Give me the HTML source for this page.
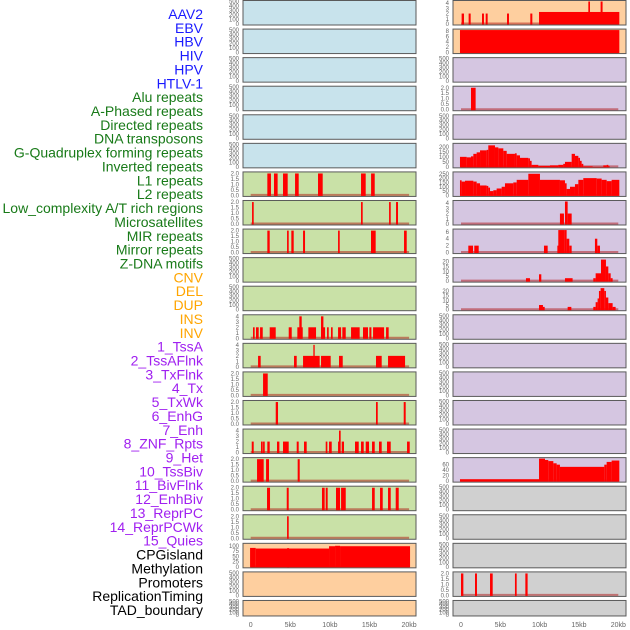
<!DOCTYPE html>
<html><head><meta charset="utf-8"><style>
html,body{margin:0;padding:0;background:#fff;}
svg{display:block;font-family:"Liberation Sans",sans-serif;}
</style></head><body>
<svg id="chart" width="630" height="630" viewBox="0 0 630 630" xmlns="http://www.w3.org/2000/svg"></svg>
<script>
// ---- data ----
const trackLabels = ["AAV2","EBV","HBV","HIV","HPV","HTLV-1","Alu repeats","A-Phased repeats","Directed repeats","DNA transposons","G-Quadruplex forming repeats","Inverted repeats","L1 repeats","L2 repeats","Low_complexity A/T rich regions","Microsatellites","MIR repeats","Mirror repeats","Z-DNA motifs","CNV","DEL","DUP","INS","INV","1_TssA","2_TssAFlnk","3_TxFlnk","4_Tx","5_TxWk","6_EnhG","7_Enh","8_ZNF_Rpts","9_Het","10_TssBiv","11_BivFlnk","12_EnhBiv","13_ReprPC","14_ReprPCWk","15_Quies","CPGisland","Methylation","Promoters","ReplicationTiming","TAD_boundary"];
const labelGroups = [6,13,5,15,5];
const xTicks = [0,5,10,15,20];
const xTickLabels = ["0","5kb","10kb","15kb","20kb"];
const ticks500 = [0,100,200,300,400,500];
const ticks2 = [0,0.5,1,1.5,2];
const ticks4 = [0,1,2,3,4];

// left column: segments [startKb, endKb, value]
const L6 = [[2.1,2.56,2],[2.94,3.4,2],[4.08,4.67,2],[5.6,6.06,2],[8.5,9.09,2],[13.93,14.52,2],[15.2,15.66,2]];
const L7 = [[0.17,0.38,2],[13.93,14.14,2],[17.47,17.68,2],[18.35,18.6,2]];
const L8 = [[2.1,2.4,2],[4.59,4.8,2],[5.13,5.43,2],[6.61,6.86,2],[11.03,11.24,2],[15.19,15.78,2],[19.36,19.7,2]];
const L11 = [[0.29,0.5,2],[0.67,1.01,2],[1.18,1.52,2],[2.4,3.16,2],[4.8,5.18,2],[5.89,6.57,2],[6.14,6.44,4],[7.28,8.25,2],[8.88,9.39,2],[8.88,9.18,4],[9.64,9.85,2],[10.14,10.35,2],[11.03,11.41,2],[11.57,12.0,2],[12.67,13.76,2],[14.18,14.81,2],[14.98,15.24,2],[15.45,16.84,2],[17.09,17.42,2]];
const L12 = [[0.93,1.26,2],[5.47,5.81,2],[6.61,8.71,2],[7.91,8.08,4],[8.88,10.1,2],[11.15,11.62,2],[15.82,16.54,2],[17.34,19.49,2]];
const L13 = [[1.56,2.15,2]];
const L14 = [[3.16,3.45,2],[15.82,16.04,2],[19.32,19.57,2]];
const L15 = [[0.13,0.38,2],[1.3,1.52,2],[1.56,1.77,2],[2.1,2.4,2],[3.32,3.62,2],[4.08,4.8,2],[5.81,6.06,2],[6.73,7.07,2],[9.47,9.68,2],[9.89,10.23,2],[11.03,11.32,2],[11.15,11.36,4],[11.49,11.78,2],[13.17,13.64,2],[13.93,14.27,2],[14.52,14.94,2],[15.32,15.66,2],[16.2,16.54,2],[17.21,17.68,2],[19.74,20.08,2]];
const L16 = [[0.8,1.64,2],[1.94,2.31,2],[5.93,6.19,2]];
const L17 = [[2.06,2.44,2],[4.55,4.8,2],[9.0,9.34,2],[9.47,9.72,2],[10.77,11.28,2],[11.41,12.0,2],[15.32,15.66,2],[16.33,16.67,2],[17.34,17.68,2],[18.31,18.69,2]];
const L18 = [[4.59,4.8,2]];
const L19 = [[-0.08,0.63,90],[0.63,9.89,87],[4.6,4.85,89],[9.89,10.65,98],[10.65,11.28,100],[11.28,20.12,98]];

// right column
const R0 = [[0.08,0.38,2],[0.97,1.23,2],[2.67,2.92,2],[3.14,3.39,2],[5.85,6.1,2],[8.81,9.07,2],[9.92,20.13,2.3],[16.19,16.4,4.5],[17.75,18.0,4.5]];
const R1 = [[-0.13,20.13,8.3]];
const R3 = [[1.27,1.86,2]];
const R5edges = [-0.13,0.72,1.27,1.57,1.99,2.42,3.26,3.47,4.32,4.75,5.38,5.81,6.86,7.08,7.5,8.56,8.77,8.98,9.83,11.31,12.37,13.0,13.22,14.07,14.49,14.92,15.13,15.34,15.55,16.74,18.09,18.52,18.73,18.85];
const R5values = [100,95,105,130,145,165,170,215,195,185,160,130,135,115,90,85,60,20,10,15,20,30,50,130,110,90,60,30,5,0,15,20,10];
const R6edges = [-0.13,0.08,0.51,1.57,1.99,2.42,3.26,3.47,3.69,4.11,4.53,5.17,5.59,6.65,7.08,8.56,10.04,12.58,13.22,13.43,13.86,14.49,14.92,15.55,17.25,17.88,18.52,19.15,20.13];
const R6values = [175,160,170,160,140,115,110,90,50,60,80,100,140,150,180,250,180,175,140,75,100,130,180,200,195,180,165,180];
const R7 = [[12.58,13.09,2],[13.22,13.56,4.3],[13.56,14.07,2]];
const R8 = [[0.93,1.53,2],[1.69,2.25,2],[10.55,11.02,2],[12.25,12.46,2],[12.37,13.14,6.5],[13.14,13.43,6.5],[13.43,13.77,4],[13.77,14.07,2],[17.03,17.33,4],[17.33,17.67,2]];
const R9 = [[8.26,8.77,3],[9.92,10.21,7],[13.22,14.19,3],[16.82,17.12,3],[17.12,17.8,8],[17.8,18.43,22],[18.43,18.73,15],[18.73,19.03,8],[19.03,19.28,3]];
const R10 = [[9.92,10.42,5],[10.42,10.64,3],[13.56,14.03,3],[16.82,17.12,3],[17.12,17.37,8],[17.37,17.54,12],[17.54,17.75,20],[17.75,18.22,23],[18.22,18.43,20],[18.43,18.73,13],[18.73,19.28,7],[19.28,19.66,3]];
const R16edges = [-0.13,9.92,10.68,11.1,11.74,12.16,12.58,18.22,18.52,19.15,20.13];
const R16values = [7,82,77,73,65,60,52,60,70,75];
const R20 = [[0,0.3,2],[1.78,2.03,2],[3.69,4.03,2],[6.86,7.08,2],[8.18,8.47,2]];

function stepsToSegs(edges, vals){ const s=[]; for(let i=0;i<vals.length;i++) s.push([edges[i],edges[i+1],vals[i]]); return s; }

const BLUE="#c8e3ec", GREEN="#c9e1a7", ORANGE="#fecf9f", PURPLE="#d5c6e1", GREY="#d0d0d0";
// panel specs: [segs, ymax, ticks, bg]
const leftPanels = [
 [null,500,ticks500,BLUE],[null,500,ticks500,BLUE],[null,500,ticks500,BLUE],[null,500,ticks500,BLUE],[null,500,ticks500,BLUE],[null,500,ticks500,BLUE],
 [L6,2.05,ticks2,GREEN],[L7,2.05,ticks2,GREEN],[L8,2.05,ticks2,GREEN],[null,500,ticks500,GREEN],[null,500,ticks500,GREEN],
 [L11,4.1,ticks4,GREEN],[L12,4.1,ticks4,GREEN],[L13,2.05,ticks2,GREEN],[L14,2.05,ticks2,GREEN],[L15,4.1,ticks4,GREEN],
 [L16,2.05,ticks2,GREEN],[L17,2.05,ticks2,GREEN],[L18,2.05,ticks2,GREEN],
 [L19,107,[0,25,50,75,100],ORANGE],[null,500,ticks500,ORANGE],[null,500,ticks500,ORANGE]
];
const rightPanels = [
 [R0,4.3,ticks4,ORANGE],[R1,8.3,[0,2,4,6,8],ORANGE],[null,500,ticks500,PURPLE],[R3,2.05,ticks2,PURPLE],[null,500,ticks500,PURPLE],
 [stepsToSegs(R5edges,R5values),225,[0,50,100,150,200],PURPLE],[stepsToSegs(R6edges,R6values),260,[0,50,100,150,200,250],PURPLE],
 [R7,4.3,ticks4,PURPLE],[R8,6.5,[0,2,4,6],PURPLE],[R9,23,[0,5,10,15,20],PURPLE],[R10,24,[0,5,10,15,20],PURPLE],
 [null,500,ticks500,PURPLE],[null,500,ticks500,PURPLE],[null,500,ticks500,PURPLE],[null,500,ticks500,PURPLE],[null,500,ticks500,PURPLE],
 [stepsToSegs(R16edges,R16values),82,[0,20,40,60],PURPLE],
 [null,500,ticks500,GREY],[null,500,ticks500,GREY],[null,500,ticks500,GREY],[R20,2.05,ticks2,GREY],[null,500,ticks500,GREY]
];

const NS="http://www.w3.org/2000/svg";
const svg=document.getElementById('chart');
function mk(tag, attrs, parent){ const e=document.createElementNS(NS,tag); for(const k in attrs) e.setAttribute(k,attrs[k]); (parent||svg).appendChild(e); return e; }

// labels
const groupColors=["#1a1aff","#187a18","#ffa500","#a020f0","#000000"];
let gi=0, gc=0;
trackLabels.forEach((lab,i)=>{
  const t=mk('text',{x:203,y:19+i*13.86,'text-anchor':'end','font-size':'14',fill:groupColors[gi]});
  t.textContent=lab;
  
  
  gc++; if(gc>=labelGroups[gi]){gi++;gc=0;}
});

function drawColumn(panels, px0, px1, kb0x, kb20x, tickX, colName){
  const xs = kb => kb0x + kb*(kb20x-kb0x)/20;
  panels.forEach((p,i)=>{
    const [segs,ymax,ticks,bg]=p;
    const top=i*28.57+0.5;
    const h = (i===panels.length-1)?15.5:24.5;
    const g=mk('g',{});
    
    
    mk('rect',{x:px0,y:top,width:px1-px0,height:h,fill:bg,stroke:'#5a5a5a','stroke-width':1},g);
    const base=top+h-1;
    const ys = v => base - Math.min(v/ymax,1)*(h-2);
    ticks.forEach(tv=>{
      const tt=mk('text',{x:tickX,y:ys(tv)+2,'text-anchor':'end','font-size':'6',fill:'#666'},g);
      tt.textContent=(ymax<3 && ticks===ticks2)?tv.toFixed(1):String(tv);
      
      
    });
    if(segs){
      mk('line',{x1:xs(0),x2:xs(20),y1:base-0.5,y2:base-0.5,stroke:'rgba(170,0,0,0.45)','stroke-width':2},g);
      segs.forEach(s=>{
        const x0=Math.max(xs(s[0]),px0+0.5), x1=Math.min(xs(s[1]),px1-0.5);
        const r=mk('rect',{x:x0,y:ys(s[2]),width:Math.max(x1-x0,1.2),height:base-ys(s[2])+0.5,fill:'#ff0000'},g);
        
        
      });
    }
  });
  xTicks.forEach((k,j)=>{
    const t=mk('text',{x:xs(k),y:627,'text-anchor':'middle','font-size':'7',fill:'#666'});
    t.textContent=xTickLabels[j];
    
    
  });
}
drawColumn(leftPanels,243,416,250.7,409.1,239,'left');
drawColumn(rightPanels,453,626,461,618.3,449,'right');
</script>
</body></html>
